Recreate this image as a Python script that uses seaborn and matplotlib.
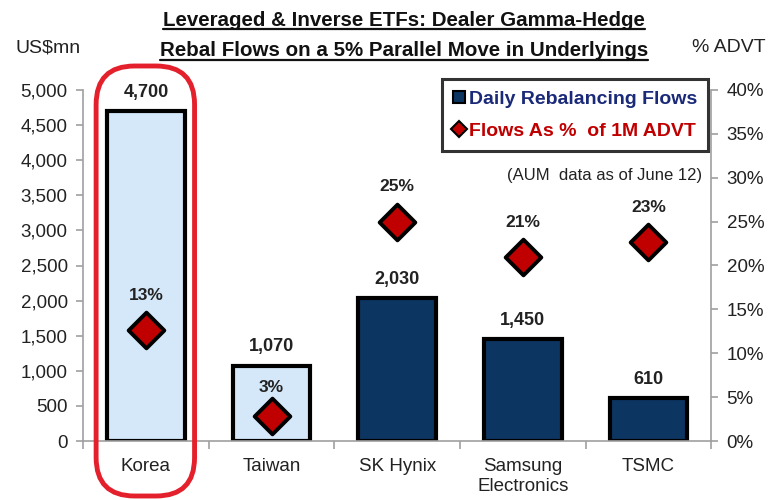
import seaborn as sns
import matplotlib.pyplot as plt
import numpy as np
from matplotlib.patches import FancyBboxPatch
from matplotlib.lines import Line2D
from matplotlib.ticker import FuncFormatter, MultipleLocator

# Data
categories = ['Korea', 'Taiwan', 'SK Hynix', 'Samsung\nElectronics', 'TSMC']
flows = [4700, 1070, 2030, 1450, 610]          # US$mn
flows_pct = [12.6, 2.8, 25.0, 21.0, 22.7]      # % of 1M ADVT
pct_labels = ['13%', '3%', '25%', '21%', '23%']
highlight = [True, True, False, False, False]

LIGHT = '#d5e8fa'
NAVY = '#0c3562'
RED = '#c00000'

sns.set_style('white')
plt.rcParams['font.family'] = ['Liberation Sans', 'DejaVu Sans']

fig = plt.figure(figsize=(7.69, 5.0), dpi=100)
ax = fig.add_axes([0.108, 0.118, 0.817, 0.702])

colors = [LIGHT if h else NAVY for h in highlight]
sns.barplot(x=categories, y=flows, hue=categories, palette=colors, legend=False,
            edgecolor='black', linewidth=3, width=0.62, saturation=1, ax=ax)

ax.set_xlim(-0.5, 4.5)
ax.set_ylim(0, 5000)
ax.yaxis.set_major_locator(MultipleLocator(500))
ax.yaxis.set_major_formatter(FuncFormatter(lambda v, p: f'{int(v):,}'))
ax.set_xlabel('')
ax.set_ylabel('')

ax2 = ax.twinx()
x = np.arange(len(categories))
ax2.scatter(x, flows_pct, marker='D', s=330, color=RED, edgecolor='black',
            linewidth=2.8, zorder=5, clip_on=False)
ax2.set_ylim(0, 40)
ax2.yaxis.set_major_locator(MultipleLocator(5))
ax2.yaxis.set_major_formatter(FuncFormatter(lambda v, p: f'{int(v)}%'))

grey = '#a0a0a0'
for a in (ax, ax2):
    for s in a.spines.values():
        s.set_color(grey)
        s.set_linewidth(1.2)
    a.spines['top'].set_visible(False)
ax.spines['right'].set_visible(False)
ax2.spines['left'].set_visible(False)
ax2.spines['bottom'].set_visible(False)

ax.tick_params(axis='y', left=True, length=5, width=1.2, color=grey,
               labelsize=13.5, labelcolor='#222222', pad=6)
ax2.tick_params(axis='y', right=True, length=5, width=1.2, color=grey,
                labelsize=13.5, labelcolor='#222222', pad=6)
ax.set_xticks(x)
ax.set_xticks(np.arange(-0.5, 5, 1), minor=True)
ax.tick_params(axis='x', which='major', length=0, labelsize=13.5,
               labelcolor='#222222', pad=12)
ax.tick_params(axis='x', which='minor', bottom=True, length=6, width=1.2, color=grey)
for lab in ax.get_xticklabels():
    lab.set_linespacing(1.25)

# value labels
for i, v in enumerate(flows):
    ax.text(i, v + 150, f'{v:,}', ha='center', va='bottom', fontsize=13,
            fontweight='bold', color='#222222')
for i, p in enumerate(flows_pct):
    off = 2.4 if i == 1 else 3.1
    ax2.text(i, p + off, pct_labels[i], ha='center', va='bottom', fontsize=12.5,
             fontweight='bold', color='#222222')

# legend
handles = [Line2D([], [], marker='s', ls='', markersize=9, markerfacecolor=NAVY,
                  markeredgecolor='black', markeredgewidth=1.5),
           Line2D([], [], marker='D', ls='', markersize=8, markerfacecolor=RED,
                  markeredgecolor='black', markeredgewidth=1.5)]
leg = ax2.legend(handles, ['Daily Rebalancing Flows', 'Flows As %  of 1M ADVT'],
                 loc='upper right', bbox_to_anchor=(0.995, 1.03), frameon=True,
                 fancybox=False, edgecolor='black', handlelength=0.6,
                 handletextpad=0.25, borderpad=0.55, labelspacing=0.75,
                 borderaxespad=0, prop={'size': 14, 'weight': 'bold'})
leg.get_frame().set_linewidth(2.2)
leg_colors = ['#1a2a78', RED]
for t, c in zip(leg.get_texts(), leg_colors):
    t.set_color(c)

ax2.text(0.985, 0.757, '(AUM  data as of June 12)', transform=ax2.transAxes,
         ha='right', va='center', fontsize=12, color='#222222')

# axis unit labels
fig.text(0.02, 0.905, 'US$mn', ha='left', va='center', fontsize=14, color='#222222')
fig.text(0.995, 0.905, '% ADVT', ha='right', va='center', fontsize=14, color='#222222')

# title with underline
t1 = fig.text(0.525, 0.958, 'Leveraged & Inverse ETFs: Dealer Gamma-Hedge', ha='center',
              va='center', fontsize=14.8, fontweight='bold', color='#111111')
t2 = fig.text(0.525, 0.898, 'Rebal Flows on a 5% Parallel Move in Underlyings', ha='center',
              va='center', fontsize=14.8, fontweight='bold', color='#111111')
fig.canvas.draw()
r = fig.canvas.get_renderer()
inv = fig.transFigure.inverted()
for t in (t1, t2):
    bb = t.get_window_extent(r)
    (x0, y0), (x1, _) = inv.transform([(bb.x0, bb.y0), (bb.x1, bb.y1)])
    fig.add_artist(Line2D([x0, x1], [y0 + 0.002, y0 + 0.002], color='#111111', lw=1.6,
                          transform=fig.transFigure))

# red highlight around Korea
box = FancyBboxPatch((0.125, 0.008), 0.128, 0.86, transform=fig.transFigure,
                     boxstyle='round,pad=0,rounding_size=0.05', fill=False,
                     edgecolor='#e3202b', linewidth=3.5, clip_on=False, zorder=10,
                     mutation_aspect=769 / 500)
fig.add_artist(box)

plt.savefig('out.png', dpi=100)
plt.close()
